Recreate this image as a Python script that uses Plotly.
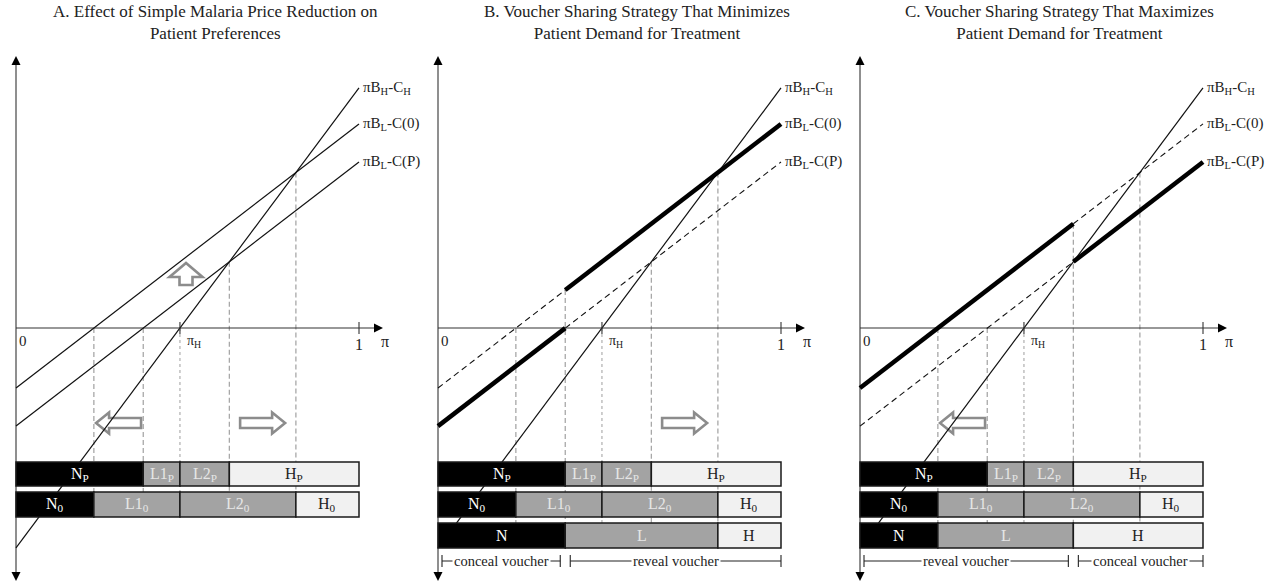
import plotly.graph_objects as go

# ------------------------- data -------------------------
panel_titles = [
    "A. Effect of Simple Malaria Price Reduction on<br>Patient Preferences",
    "B. Voucher Sharing Strategy That Minimizes<br>Patient Demand for Treatment",
    "C. Voucher Sharing Strategy That Maximizes<br>Patient Demand for Treatment",
]
line_labels = ["πB<sub>H</sub>-C<sub>H</sub>", "πB<sub>L</sub>-C(0)", "πB<sub>L</sub>-C(P)"]
line_at_0 = [-0.641, -0.175, -0.286]   # value of each line at π = 0
line_at_1 = [0.700, 0.595, 0.484]      # value of each line at π = 1
pi_H = 0.478

cut_P = [0.0, 0.371, 0.478, 0.622, 1.0]
labels_P = ["N<sub>P</sub>", "L1<sub>P</sub>", "L2<sub>P</sub>", "H<sub>P</sub>"]
kinds_P = ["N", "L", "L", "H"]

cut_0 = [0.0, 0.227, 0.478, 0.816, 1.0]
labels_0 = ["N<sub>0</sub>", "L1<sub>0</sub>", "L2<sub>0</sub>", "H<sub>0</sub>"]
kinds_0 = ["N", "L", "L", "H"]

cut_B = [0.0, 0.371, 0.816, 1.0]
cut_C = [0.0, 0.227, 0.622, 1.0]
labels_3 = ["N", "L", "H"]
kinds_3 = ["N", "L", "H"]

bracket_B = ["conceal voucher", "reveal voucher"]
bracket_C = ["reveal voucher", "conceal voucher"]

# ------------------------- layout / style constants -------------------------
W, H = 1272, 584
PX = 343.0                  # pixels per unit (both axes)
AX_Y = 328                  # pixel row of the horizontal axis
ORIGINS = [16, 438, 860]    # pixel column of each vertical axis
SERIF = "Liberation Serif, Times New Roman, serif"
TXT = "#222222"
FILL = {"N": "#000000", "L": "#a3a3a3", "H": "#f1f1f1"}
TXTCOL = {"N": "#ffffff", "L": "#e6e6e6", "H": "#222222"}
GUIDE = "#a8a8a8"
ARROW = "#8c8c8c"
F_TITLE, F_LINE, F_BAR, F_BRACKET = 17, 15, 16, 14.5


def py2y(py):
    return (AX_Y - py) / PX


row_P_y = (py2y(462), py2y(486))
row_0_y = (py2y(492), py2y(517))
row_3_y = (py2y(523), py2y(548))
bracket_y = py2y(561)


def line_val(k, p):
    return line_at_0[k] + (line_at_1[k] - line_at_0[k]) * p


fig = go.Figure()
shapes = []
annos = []

# axes
for i, o in enumerate(ORIGINS):
    sfx = "" if i == 0 else str(i + 1)
    dom0 = (o - 16) / W
    fig.update_layout(**{
        "xaxis" + sfx: dict(domain=[dom0, dom0 + 424 / W], range=[-16 / PX, 408 / PX],
                            visible=False, fixedrange=True),
        "yaxis" + sfx: dict(domain=[0, 1], range=[py2y(H), py2y(0)], visible=False,
                            fixedrange=True, anchor="x" + sfx),
    })
    fig.layout["xaxis" + sfx].anchor = "y" + sfx


def xr(i):
    return "x" if i == 0 else "x%d" % (i + 1)


def yr(i):
    return "y" if i == 0 else "y%d" % (i + 1)


# line style per panel: list of (line index, start, end, style)
split_B = cut_B[1]
split_C = cut_C[2]
panel_lines = [
    [(0, 0, 1, "thin"), (1, 0, 1, "thin"), (2, 0, 1, "thin")],
    [(0, 0, 1, "thin"), (1, 0, split_B, "dash"), (1, split_B, 1, "thick"),
     (2, 0, split_B, "thick"), (2, split_B, 1, "dash")],
    [(0, 0, 1, "thin"), (1, 0, split_C, "thick"), (1, split_C, 1, "dash"),
     (2, 0, split_C, "dash"), (2, split_C, 1, "thick")],
]
STYLE = {"thin": dict(color="#111", width=1.2),
         "dash": dict(color="#111", width=1.1, dash="6px,4px"),
         "thick": dict(color="#000", width=4.5)}

# guide verticals: (π, top value) per panel
z_C0 = cut_0[1]
z_CP = cut_P[1]
x_HCP = cut_P[3]
x_HC0 = cut_0[3]
guides = [
    [(z_C0, 0), (z_CP, 0), (x_HCP, line_val(2, x_HCP)), (x_HC0, line_val(1, x_HC0))],
    [(z_C0, 0), (z_CP, line_val(1, z_CP)), (x_HCP, line_val(2, x_HCP)), (x_HC0, line_val(1, x_HC0))],
    [(z_C0, 0), (z_CP, 0), (x_HCP, line_val(1, x_HCP)), (x_HC0, line_val(1, x_HC0))],
]
bottoms = [row_0_y[1], row_3_y[1], row_3_y[1]]

for i in range(3):
    X, Y = xr(i), yr(i)
    # guide lines
    for (p, top) in guides[i]:
        shapes.append(dict(type="line", xref=X, yref=Y, x0=p, x1=p, y0=top, y1=bottoms[i],
                           line=dict(color=GUIDE, width=1.3, dash="5px,3px"), layer="below"))
    shapes.append(dict(type="line", xref=X, yref=Y, x0=pi_H, x1=pi_H, y0=0, y1=bottoms[i],
                       line=dict(color=GUIDE, width=1.1, dash="dot"), layer="below"))

    # axes lines
    shapes.append(dict(type="line", xref=X, yref=Y, x0=0, x1=1.05, y0=0, y1=0,
                       line=dict(color="#333", width=1.1), layer="below"))
    shapes.append(dict(type="line", xref=X, yref=Y, x0=0, x1=0, y0=py2y(575), y1=py2y(62),
                       line=dict(color="#333", width=1.1), layer="below"))
    # arrow heads
    shapes.append(dict(type="path", xref=X, yref=Y, xsizemode="pixel", ysizemode="pixel",
                       xanchor=(383 - 16) / PX, yanchor=0, path="M 0 0 L -9 4.5 L -9 -4.5 Z",
                       fillcolor="#000", line=dict(width=0)))
    shapes.append(dict(type="path", xref=X, yref=Y, xsizemode="pixel", ysizemode="pixel",
                       xanchor=0, yanchor=py2y(56), path="M 0 0 L -4.5 -9 L 4.5 -9 Z",
                       fillcolor="#000", line=dict(width=0)))
    shapes.append(dict(type="path", xref=X, yref=Y, xsizemode="pixel", ysizemode="pixel",
                       xanchor=0, yanchor=py2y(581), path="M 0 0 L -4.5 9 L 4.5 9 Z",
                       fillcolor="#000", line=dict(width=0)))
    # ticks at 1 and πH
    for p in (1.0, pi_H):
        shapes.append(dict(type="line", xref=X, yref=Y, ysizemode="pixel", yanchor=0,
                           x0=p, x1=p, y0=-6, y1=6, line=dict(color="#333", width=1.1)))

    # lines
    for (k, a, b, st) in panel_lines[i]:
        fig.add_trace(go.Scatter(x=[a, b], y=[line_val(k, a), line_val(k, b)], mode="lines",
                                 line=STYLE[st], xaxis=X, yaxis=Y, hoverinfo="skip",
                                 showlegend=False))

    # line labels
    for k in range(3):
        annos.append(dict(xref=X, yref=Y, x=1, y=line_at_1[k], xshift=2, xanchor="left",
                          yanchor="middle", text=line_labels[k], showarrow=False,
                          font=dict(family=SERIF, size=F_LINE, color=TXT)))
    # axis labels
    annos.append(dict(xref=X, yref=Y, x=0, y=0, xshift=1, yshift=-13, xanchor="left",
                      yanchor="middle", text="0", showarrow=False,
                      font=dict(family=SERIF, size=15, color=TXT)))
    annos.append(dict(xref=X, yref=Y, x=pi_H, y=0, xshift=5, yshift=-13, xanchor="left",
                      yanchor="middle", text="π<sub>H</sub>", showarrow=False,
                      font=dict(family=SERIF, size=14, color=TXT)))
    annos.append(dict(xref=X, yref=Y, x=1, y=0, yshift=-16, xanchor="center",
                      yanchor="middle", text="1", showarrow=False,
                      font=dict(family=SERIF, size=16, color=TXT)))
    annos.append(dict(xref=X, yref=Y, x=(385 - 16) / PX, y=0, yshift=-13, xanchor="center",
                      yanchor="middle", text="π", showarrow=False,
                      font=dict(family=SERIF, size=16, color=TXT)))
    # title
    annos.append(dict(xref=X, yref="paper", x=199 / PX, y=1 - 22 / H, xanchor="center",
                      yanchor="middle", text=panel_titles[i], showarrow=False,
                      font=dict(family=SERIF, size=F_TITLE, color=TXT)))

    # bar rows
    rows = [(cut_P, labels_P, kinds_P, row_P_y), (cut_0, labels_0, kinds_0, row_0_y)]
    if i == 1:
        rows.append((cut_B, labels_3, kinds_3, row_3_y))
    if i == 2:
        rows.append((cut_C, labels_3, kinds_3, row_3_y))
    for cuts, labs, kinds, (yt, yb) in rows:
        for j in range(len(labs)):
            shapes.append(dict(type="rect", xref=X, yref=Y, x0=cuts[j], x1=cuts[j + 1],
                               y0=yb, y1=yt, fillcolor=FILL[kinds[j]],
                               line=dict(color="#1a1a1a", width=1.5), layer="above"))
            annos.append(dict(xref=X, yref=Y, x=(cuts[j] + cuts[j + 1]) / 2, y=(yt + yb) / 2,
                              text=labs[j], showarrow=False, xanchor="center", yanchor="middle",
                              font=dict(family=SERIF, size=F_BAR, color=TXTCOL[kinds[j]])))

    # brackets
    if i in (1, 2):
        cuts = cut_B if i == 1 else cut_C
        names = bracket_B if i == 1 else bracket_C
        mid = cuts[1] if i == 1 else cuts[2]
        spans = [(0.0, mid), (mid, 1.0)]
        inset_l = [4 / PX, 5 / PX]
        inset_r = [-5 / PX, 0]
        for s, (a, b) in enumerate(spans):
            a2 = a + inset_l[s]
            b2 = b + inset_r[s]
            shapes.append(dict(type="line", xref=X, yref=Y, x0=a2, x1=b2, y0=bracket_y,
                               y1=bracket_y, line=dict(color="#222", width=1.1), layer="above"))
            for xx in (a2, b2):
                shapes.append(dict(type="line", xref=X, yref=Y, ysizemode="pixel",
                                   yanchor=bracket_y, x0=xx, x1=xx, y0=-6, y1=6,
                                   line=dict(color="#222", width=1.1), layer="above"))
            annos.append(dict(xref=X, yref=Y, x=(a2 + b2) / 2, y=bracket_y, text=names[s],
                              showarrow=False, xanchor="center", yanchor="middle",
                              bgcolor="white", borderpad=1,
                              font=dict(family=SERIF, size=F_BRACKET, color=TXT)))

# block arrows (hollow)
LEFT = "M -22.5 0 L -9.5 10.5 L -9.5 5 L 22.5 5 L 22.5 -5 L -9.5 -5 L -9.5 -10.5 Z"
RIGHT = "M 22.5 0 L 9.5 10.5 L 9.5 5 L -22.5 5 L -22.5 -5 L 9.5 -5 L 9.5 -10.5 Z"
UP = "M 0 11 L -16.5 -3 L -6.5 -3 L -6.5 -11 L 6.5 -11 L 6.5 -3 L 16.5 -3 Z"
arrow_y = py2y(423)
arrows = [
    (0, (z_C0 + z_CP) / 2, arrow_y, LEFT),
    (0, (x_HCP + x_HC0) / 2, arrow_y, RIGHT),
    (0, (186 - 16) / PX, py2y(274), UP),
    (1, (x_HCP + x_HC0) / 2, arrow_y, RIGHT),
    (2, (z_C0 + z_CP) / 2, arrow_y, LEFT),
]
for (i, ax_, ay_, path) in arrows:
    shapes.append(dict(type="path", xref=xr(i), yref=yr(i), xsizemode="pixel",
                       ysizemode="pixel", xanchor=ax_, yanchor=ay_, path=path,
                       fillcolor="white", line=dict(color=ARROW, width=2.6), layer="below"))

fig.update_layout(width=W, height=H, margin=dict(l=0, r=0, t=0, b=0),
                  paper_bgcolor="white", plot_bgcolor="white", showlegend=False,
                  shapes=shapes, annotations=annos)
fig.write_html("out.html")
